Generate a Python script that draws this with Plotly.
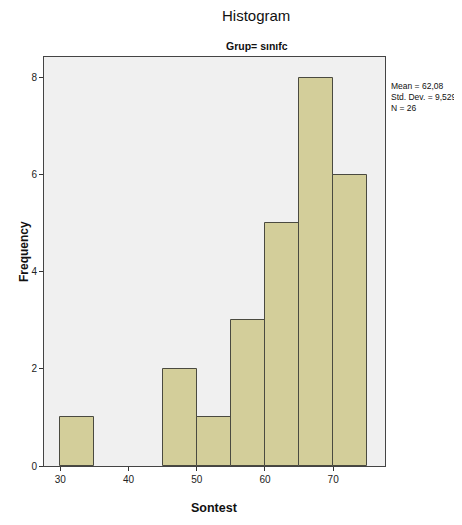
import plotly.graph_objects as go

bin_starts = [30, 35, 40, 45, 50, 55, 60, 65, 70]
bin_width = 5
counts = [1, 0, 0, 2, 1, 3, 5, 8, 6]
x_ticks = [30, 40, 50, 60, 70]
y_ticks = [0, 2, 4, 6, 8]
stats_lines = ["Mean = 62,08", "Std. Dev. = 9,529", "N = 26"]

centers = [s + bin_width / 2 for s in bin_starts]
plot_counts = [c if c > 0 else None for c in counts]

# page has an 8px body margin; figure placed at (8, 8)
OFF = 8
W, H = 462 - OFF, 525 - OFF
# plot area in page pixels
PL, PR, PT, PB = 44, 385, 57, 466
L, R, T, B = PL - OFF, W - (PR - OFF), PT - OFF, H - (PB - OFF)
plot_w = PR - PL
plot_h = PB - PT

def px(x):
    return (x - PL) / plot_w

def py(y):
    return (PB - y) / plot_h

font = "Liberation Sans, Arial, sans-serif"

fig = go.Figure()
fig.add_trace(go.Bar(
    x=centers, y=plot_counts, width=[bin_width] * len(counts),
    marker=dict(color="#D3CE9A", line=dict(color="#4a4a40", width=1)),
    showlegend=False, hoverinfo="x+y",
))

fig.update_layout(
    width=W, height=H,
    margin=dict(l=L, r=R, t=T, b=B, pad=0),
    paper_bgcolor="white", plot_bgcolor="#F0F0F0",
    font=dict(family=font, color="#111111", size=10),
    bargap=0,
    xaxis=dict(range=[27.6, 77.6], tickvals=x_ticks, ticks="outside", ticklen=4,
               tickcolor="#333", showgrid=False, zeroline=False, automargin=False,
               showline=True, linecolor="#444", linewidth=1, mirror=True,
               tickfont=dict(size=10, color="#222")),
    yaxis=dict(range=[0, 8.43], tickvals=y_ticks, ticks="outside", ticklen=4,
               tickcolor="#333", showgrid=False, zeroline=False, automargin=False,
               showline=True, linecolor="#444", linewidth=1, mirror=True,
               tickfont=dict(size=10, color="#222")),
    annotations=[
        dict(text="Histogram", xref="paper", yref="paper", x=px(256), y=py(16),
             xanchor="center", yanchor="middle", showarrow=False,
             font=dict(size=15, color="#111")),
        dict(text="<b>Grup= sınıfc</b>", xref="paper", yref="paper", x=px(257), y=py(46),
             xanchor="center", yanchor="middle", showarrow=False,
             font=dict(size=10.5, color="#111")),
        dict(text="<b>Sontest</b>", xref="paper", yref="paper", x=px(214), y=py(508),
             xanchor="center", yanchor="middle", showarrow=False,
             font=dict(size=12.5, color="#111")),
        dict(text="<b>Frequency</b>", xref="paper", yref="paper", x=px(24), y=py(252),
             xanchor="center", yanchor="middle", showarrow=False, textangle=-90,
             font=dict(size=12, color="#111")),
        dict(text="<br>".join(stats_lines), xref="paper", yref="paper", x=px(389), y=py(79),
             xanchor="left", yanchor="top", align="left", showarrow=False,
             font=dict(size=8.5, color="#111")),
    ],
)

fig.write_html("out.html")
